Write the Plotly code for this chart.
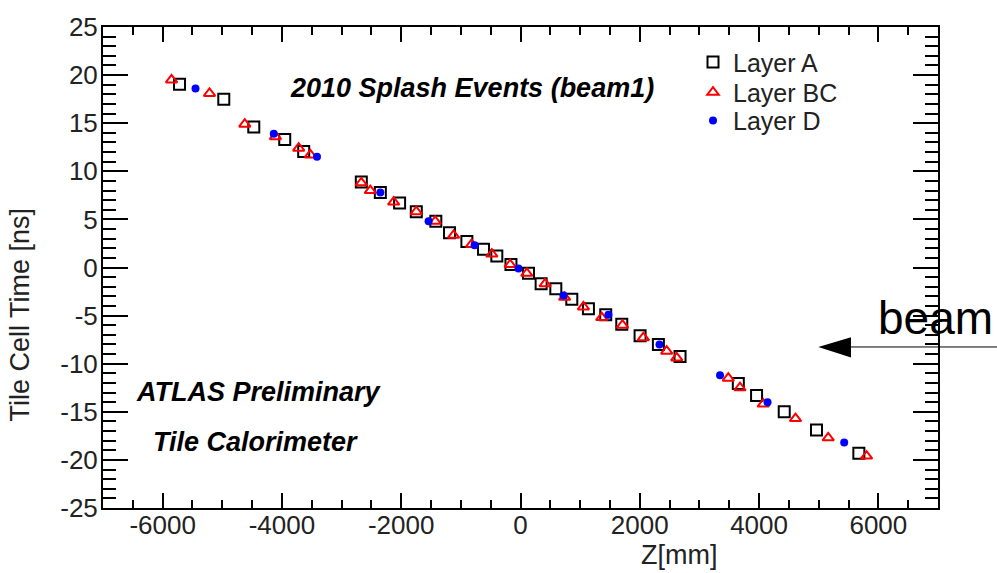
import plotly.graph_objects as go

# ---- data ----
layer_a_z = [-5717, -4975, -4472, -3953, -3635, -2669, -2350, -2027, -1747, -1420,
             -1190, -899, -620, -397, -160, 134, 346, 592, 860, 1139,
             1429, 1698, 2005, 2312, 2675, 3652, 3958, 4422, 4963, 5673]
layer_a_t = [19.05, 17.5, 14.6, 13.3, 12.05, 8.9, 7.8, 6.7, 5.8, 4.8,
             3.6, 2.7, 1.9, 1.2, 0.3, -0.6, -1.7, -2.2, -3.3, -4.3,
             -4.9, -5.9, -7.1, -8.0, -9.25, -12.05, -13.3, -15.0, -16.9, -19.3]

layer_bc_z = [-5851, -5214, -4623, -4109, -3719, -3523, -2669, -2518, -2127, -1747,
              -1429, -1122, -820, -480, -173, 106, 413, 740, 1055, 1362,
              1710, 2060, 2451, 2620, 3484, 3680, 4070, 4611, 5159, 5802]
layer_bc_t = [19.5, 18.1, 14.9, 13.6, 12.4, 11.7, 8.8, 8.0, 6.8, 5.8,
              4.8, 3.35, 2.4, 1.4, 0.3, -0.6, -1.7, -3.1, -4.1, -5.2,
              -6.0, -7.3, -8.7, -9.4, -11.5, -12.5, -14.2, -15.7, -17.7, -19.6]

layer_d_z = [-5449, -4137, -3412, -2350, -1541, -770, -34, 720, 1474, 2330, 3345, 4142, 5427]
layer_d_t = [18.6, 13.9, 11.5, 7.8, 4.8, 2.3, -0.1, -2.9, -4.9, -8.0, -11.2, -14.0, -18.2]

x_tick_vals = [-6000, -4000, -2000, 0, 2000, 4000, 6000]
x_tick_text = ["-6000", "-4000", "-2000", "0", "2000", "4000", "6000"]
y_tick_vals = [-25, -20, -15, -10, -5, 0, 5, 10, 15, 20, 25]
y_tick_text = ["-25", "-20", "-15", "-10", "-5", "0", "5", "10", "15", "20", "25"]

FONT = "Liberation Sans, Arial, sans-serif"

W, H = 997, 573
L, R, T, B = 103, 59, 16, 65
pw, ph = W - L - R, H - T - B

def px(xp):
    return (xp - L) / pw

def py(yp):
    return (H - B - yp) / ph

fig = go.Figure()
fig.add_trace(go.Scatter(x=layer_a_z, y=layer_a_t, mode="markers", name="Layer A",
                         legend="legend",
                         marker=dict(symbol="square-open", size=11, color="black",
                                     line=dict(width=2, color="black"))))
fig.add_trace(go.Scatter(x=layer_bc_z, y=layer_bc_t, mode="markers", name="Layer BC",
                         legend="legend2",
                         marker=dict(symbol="triangle-up-open", size=10, color="red",
                                     line=dict(width=2, color="red"))))
fig.add_trace(go.Scatter(x=layer_d_z, y=layer_d_t, mode="markers", name="Layer D",
                         legend="legend3",
                         marker=dict(symbol="circle", size=8, color="blue",
                                     line=dict(width=0))))

axis_common = dict(showgrid=False, zeroline=False, showline=True, linecolor="black",
                   linewidth=2, mirror="allticks", ticks="inside", tickcolor="black",
                   tickwidth=1.5, tickfont=dict(family=FONT, size=26, color="#222"))

fig.update_xaxes(range=[-7000, 7000], tickvals=x_tick_vals, ticktext=x_tick_text,
                 ticklen=15, ticklabelstandoff=-7,
                 minor=dict(dtick=500, tick0=0, ticklen=8, ticks="inside",
                            tickcolor="black", tickwidth=1.5),
                 **axis_common)
fig.update_yaxes(range=[-25, 25], tickvals=y_tick_vals, ticktext=y_tick_text,
                 ticklen=25, ticklabelstandoff=-2,
                 minor=dict(dtick=1, tick0=0, ticklen=13, ticks="inside",
                            tickcolor="black", tickwidth=1.5),
                 **axis_common)

annotations = [
    dict(text="<b><i>2010 Splash Events (beam1)</i></b>", x=px(471.5), y=py(78),
         xref="paper", yref="paper", xanchor="center", yanchor="middle", showarrow=False,
         font=dict(family=FONT, size=27, color="black")),
    dict(text="<b><i>ATLAS Preliminary</i></b>", x=px(134), y=py(389),
         xref="paper", yref="paper", xanchor="left", yanchor="middle", showarrow=False,
         font=dict(family=FONT, size=27, color="black")),
    dict(text="<b><i>Tile Calorimeter</i></b>", x=px(151), y=py(440),
         xref="paper", yref="paper", xanchor="left", yanchor="middle", showarrow=False,
         font=dict(family=FONT, size=27, color="black")),
    dict(text="beam", x=px(876), y=py(314), xref="paper", yref="paper",
         xanchor="left", yanchor="middle", showarrow=False,
         font=dict(family=FONT, size=46, color="black")),
    dict(text="Tile Cell Time [ns]", x=px(20), y=py(310), xref="paper", yref="paper",
         xanchor="center", yanchor="middle", textangle=-90, showarrow=False,
         font=dict(family=FONT, size=27, color="#222")),
    dict(text="Z[mm]", x=px(719), y=py(556), xref="paper", yref="paper",
         xanchor="right", yanchor="middle", showarrow=False,
         font=dict(family=FONT, size=27, color="#222")),
]

shapes = [
    dict(type="line", xref="paper", yref="paper", x0=px(850), x1=px(1005),
         y0=py(343.3), y1=py(343.3), line=dict(color="black", width=1)),
    dict(type="path", xref="paper", yref="paper",
         path=f"M {px(818.3)} {py(343.3)} L {px(851)} {py(333.3)} L {px(851)} {py(354)} Z",
         fillcolor="black", line=dict(color="black", width=0)),
]

leg_common = dict(xanchor="left", yanchor="middle",
                  font=dict(family=FONT, size=25, color="#222"),
                  bgcolor="rgba(0,0,0,0)", itemwidth=30)

fig.update_layout(
    width=W, height=H,
    margin=dict(l=L, r=R, t=T, b=B, pad=0),
    paper_bgcolor="white", plot_bgcolor="white",
    showlegend=True,
    legend=dict(x=px(693), y=py(52), **leg_common),
    legend2=dict(x=px(693), y=py(83), **leg_common),
    legend3=dict(x=px(693), y=py(112), **leg_common),
    annotations=annotations,
    shapes=shapes,
)

fig.write_html("out.html")
